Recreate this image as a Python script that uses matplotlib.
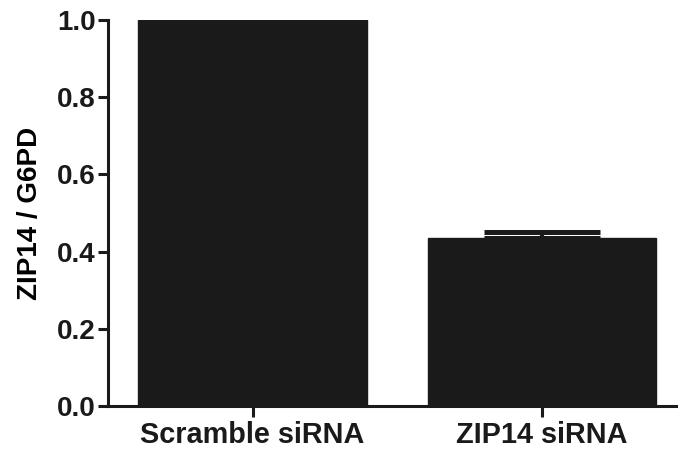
import matplotlib.pyplot as plt

plt.rcParams['font.family'] = ['Liberation Sans', 'DejaVu Sans']
plt.rcParams['font.weight'] = 'bold'

groups = ['Scramble siRNA', 'ZIP14 siRNA']
ratio = [1.0, 0.435]
sem = [0.0, 0.017]
y_ticks = [0.0, 0.2, 0.4, 0.6, 0.8, 1.0]

ink = '#1a1a1a'

fig = plt.figure(figsize=(6.78, 4.49), dpi=100)
ax = fig.add_axes([0.1593, 0.0958, 0.8407, 0.8597])

pos = list(range(len(groups)))
ax.bar(pos, ratio, width=0.79, color=ink, edgecolor=ink, zorder=2)
# upper error only for the knockdown bar
ax.errorbar(pos[1:], ratio[1:], yerr=[[0], sem[1:]], fmt='none',
            ecolor=ink, elinewidth=3, capsize=42, capthick=3.6, zorder=1)

ax.set_xlim(-0.5, 1.47)
ax.set_ylim(0, 1.0)
ax.set_xticks(pos)
ax.set_xticklabels(groups, fontsize=20.8, fontweight='bold')
ax.set_yticks(y_ticks)
ax.set_yticklabels([f'{v:.1f}' for v in y_ticks], fontsize=20, fontweight='bold')
ax.set_ylabel('ZIP14 / G6PD', fontsize=20, fontweight='bold', labelpad=10)

for side in ['top', 'right']:
    ax.spines[side].set_visible(False)
for side in ['left', 'bottom']:
    ax.spines[side].set_linewidth(2.2)
    ax.spines[side].set_color(ink)
ax.tick_params(axis='both', direction='out', width=2.2, color=ink, labelcolor=ink)
ax.tick_params(axis='y', length=7, pad=2)
ax.tick_params(axis='x', length=8, pad=3)

fig.savefig('out.png', dpi=100)
